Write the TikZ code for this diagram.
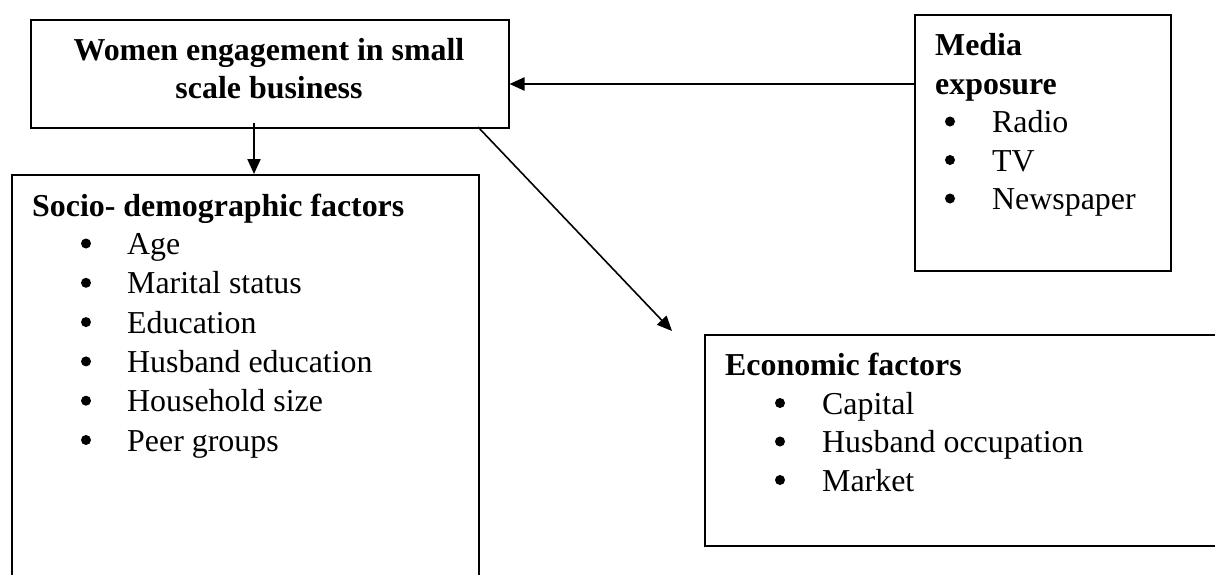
\documentclass[tikz,border=0pt]{standalone}
\usepackage{fontspec}
\setmainfont{Liberation Serif}
\usetikzlibrary{positioning,arrows.meta}

\tikzset{
  frame/.style={draw, line width=1.5pt, inner sep=0pt, anchor=north west},
  link/.style={line width=2.2pt, -{Triangle[length=15pt,width=13pt]}},
  head/.style={anchor=base west, inner sep=0pt, font=\fontsize{31.9}{38}\selectfont\bfseries},
  entry/.style={anchor=base west, inner sep=0pt, font=\fontsize{31.9}{38}\selectfont},
  dot/.style={circle, fill, inner sep=0pt, minimum size=10pt},
}

\begin{document}
\begin{tikzpicture}[x=1pt,y=1pt,yscale=-1]
\useasboundingbox (0,0) rectangle (1215,574);

% boxes
\node (women) [frame, minimum width=478pt, minimum height=108pt] at (30,19) {};
\node (media) [frame, minimum width=256pt, minimum height=256pt] at (914,14) {};
\node (socio) [frame, minimum width=467pt, minimum height=420pt] at (11,174) {};
\node (econ) [frame, minimum width=530pt, minimum height=211pt] at (704,334) {};

% title of the main box
\node (w1) [head, anchor=base] at (269,60) {Women engagement in small};
\node (w2) [head, anchor=base] at (269,98) {scale business};

% media exposure
\node (m1) [head] at (935,55.5) {Media};
\node (m2) [head] at (935,94) {exposure};
\foreach \t [count=\i] in {Radio,TV,Newspaper}{
  \node (mb\i) [dot] at (950,121.5+38.5*\i-38.5) {};
  \node (m\i t) [entry] at (992,132.5+38.5*\i-38.5) {\t};
}

% socio-demographic factors
\node (s0) [head] at (32,216) {Socio- demographic factors};
\foreach \t [count=\i] in {Age,Marital status,Education,Husband education,Household size,Peer groups}{
  \node (sb\i) [dot] at (86,243.5+39.3*\i-39.3) {};
  \node (s\i) [entry] at (127,254.5+39.3*\i-39.3) {\t};
}

% economic factors
\node (e0) [head] at (725,375.5) {Economic factors};
\foreach \t [count=\i] in {Capital,Husband occupation,Market}{
  \node (eb\i) [dot] at (780,403+38.5*\i-38.5) {};
  \node (e\i) [entry] at (822,414+38.5*\i-38.5) {\t};
}

% arrows
\draw [link] (media.west |- 0,84) -- (women.east |- 0,84);
\draw [link] (254,123) -- (socio.north -| 254,0);
\draw [link, line width=1.6pt] (478,127) -- (672,331);

\end{tikzpicture}
\end{document}
